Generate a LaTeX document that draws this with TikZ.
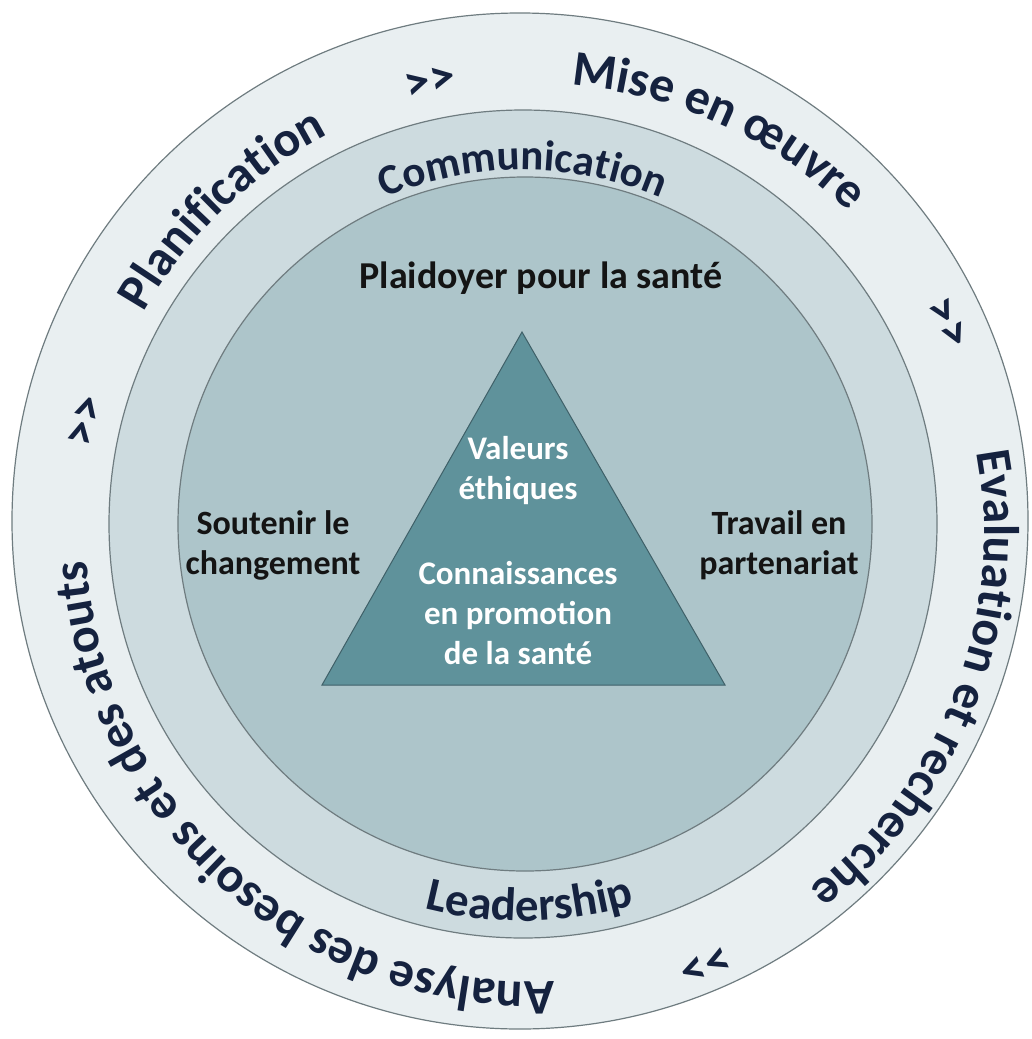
\documentclass[tikz,border=0pt]{standalone}
\usepackage{fontspec}
\setmainfont{Carlito}
\usetikzlibrary{decorations.text}

\definecolor{ringout}{HTML}{E9EFF1}
\definecolor{ringmid}{HTML}{CDDBDF}
\definecolor{ringin}{HTML}{ADC5CA}
\definecolor{triblue}{HTML}{5F929B}
\definecolor{tridark}{HTML}{3F6068}
\definecolor{edgegray}{HTML}{6F7C80}
\definecolor{navytext}{HTML}{15223F}

\newcommand{\outerfont}{\bfseries\fontsize{50}{52}\selectfont}
\newcommand{\midfont}{\bfseries\fontsize{43}{46}\selectfont}

\tikzset{
  ringcircle/.style={circle, draw=edgegray, line width=1.2pt, inner sep=0pt},
  ringtext/.style={decorate, decoration={text along path, text align=center,
      text color=navytext, text={#1}}},
  innertext/.style={font=\bfseries\fontsize{34}{40}\selectfont, text=black!92, align=center},
  tritext/.style={font=\bfseries\fontsize{33}{40}\selectfont, text=white, align=center},
}

\begin{document}
\begin{tikzpicture}[x=1pt, y=1pt]
\useasboundingbox (0,0) rectangle (1032,-1039);

% rings
\node[ringcircle, fill=ringout, minimum size=1016pt] (outer) at (520,-521) {};
\node[ringcircle, fill=ringmid, minimum size=828pt] (middle) at (523,-524) {};
\node[ringcircle, fill=ringin, minimum size=694pt] (inner) at (525,-524) {};
\coordinate (textcenter) at (535,-533);

% triangle
\coordinate (apex) at (522,-332);
\coordinate (baseL) at (322,-685);
\coordinate (baseR) at (725,-685);
\filldraw[fill=triblue, draw=tridark, line width=1pt] (apex) -- (baseL) -- (baseR) -- cycle;

% outer ring, clockwise
\path[ringtext={|\outerfont|Planification}]
  (textcenter) ++(164:449) arc[start angle=164, end angle=104, radius=449];
\path[ringtext={|\outerfont|>>}]
  (textcenter) ++(115:449) arc[start angle=115, end angle=91, radius=449];
\path[ringtext={|\outerfont|Mise en œuvre}]
  (textcenter) ++(96:449) arc[start angle=96, end angle=35, radius=449];
\path[ringtext={|\outerfont|>>}]
  (textcenter) ++(39:449) arc[start angle=39, end angle=15, radius=449];
\path[ringtext={|\outerfont|Evaluation et recherche}]
  (textcenter) ++(19:449) arc[start angle=19, end angle=-61, radius=449];
\path[ringtext={|\outerfont|>>}]
  (textcenter) ++(-56:449) arc[start angle=-56, end angle=-81, radius=449];
\path[ringtext={|\outerfont|Analyse des besoins et des atouts}]
  (textcenter) ++(-76:449) arc[start angle=-76, end angle=-188, radius=449];
\path[ringtext={|\outerfont|>>}]
  (textcenter) ++(178:449) arc[start angle=178, end angle=154, radius=449];

% middle ring
\path[ringtext={|\midfont|Communication}]
  (middle.center) ++(125:354) arc[start angle=125, end angle=55, radius=354];
\path[ringtext={|\bfseries\fontsize{47}{50}\selectfont|Leadership}]
  (middle.center) ++(-126:397) arc[start angle=-126, end angle=-52, radius=397];

% inner circle
\node[innertext, font=\bfseries\fontsize{38}{44}\selectfont, anchor=base] (plaidoyer)
  at (541,-288) {Plaidoyer pour la santé};
\node[innertext] (soutenir) at (273,-545) {Soutenir le\\changement};
\node[innertext] (travail) at (779,-545) {Travail en\\partenariat};

% triangle texts
\node[tritext] (valeurs) at (518,-471) {Valeurs\\éthiques};
\node[tritext] (connaissances) at (518,-613) {Connaissances\\en promotion\\de la santé};
\end{tikzpicture}
\end{document}
